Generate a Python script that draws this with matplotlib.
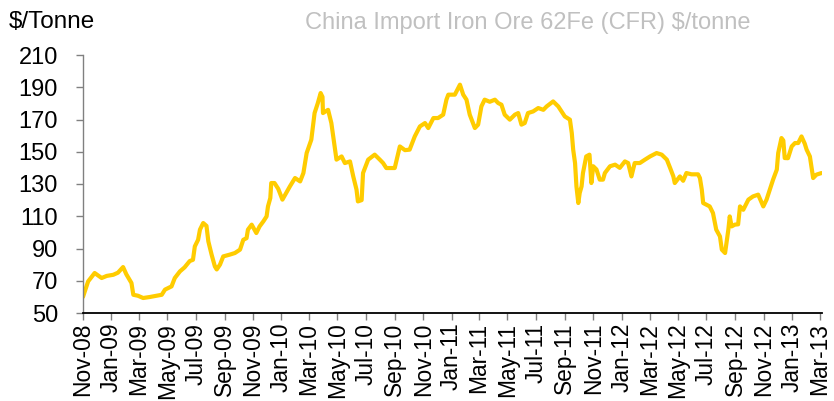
import matplotlib
matplotlib.use("Agg")
import matplotlib.pyplot as plt
import matplotlib.dates as mdates
import pandas as pd

dates = [
    "2008-11-01", "2008-11-12", "2008-11-26", "2008-12-11", "2008-12-22",
    "2009-01-05", "2009-01-15", "2009-01-26", "2009-02-02", "2009-02-13",
    "2009-02-17", "2009-02-27", "2009-03-10", "2009-03-24", "2009-04-08",
    "2009-04-19", "2009-04-26", "2009-05-10", "2009-05-17", "2009-05-28",
    "2009-06-07", "2009-06-18", "2009-06-25", "2009-06-29", "2009-07-06",
    "2009-07-10", "2009-07-17", "2009-07-24", "2009-07-28", "2009-08-04",
    "2009-08-11", "2009-08-15", "2009-08-22", "2009-08-29", "2009-09-12",
    "2009-09-23", "2009-10-04", "2009-10-11", "2009-10-18", "2009-10-21",
    "2009-10-29", "2009-11-08", "2009-11-15", "2009-11-23", "2009-11-30",
    "2009-12-03", "2009-12-08", "2009-12-10", "2009-12-17", "2009-12-25",
    "2010-01-03", "2010-01-19", "2010-01-30", "2010-02-10", "2010-02-17",
    "2010-02-24", "2010-03-06", "2010-03-13", "2010-03-20", "2010-03-26",
    "2010-03-30", "2010-03-31", "2010-04-11", "2010-04-18", "2010-04-29",
    "2010-05-10", "2010-05-17", "2010-05-28", "2010-06-04", "2010-06-11",
    "2010-06-14", "2010-06-22", "2010-06-25", "2010-07-06", "2010-07-20",
    "2010-07-31", "2010-08-07", "2010-08-14", "2010-09-01", "2010-09-12",
    "2010-09-23", "2010-10-03", "2010-10-14", "2010-10-25", "2010-11-05",
    "2010-11-12", "2010-11-23", "2010-12-03", "2010-12-14", "2010-12-21",
    "2010-12-25", "2011-01-08", "2011-01-19", "2011-01-26", "2011-02-02",
    "2011-02-09", "2011-02-20", "2011-02-27", "2011-03-06", "2011-03-13",
    "2011-03-24", "2011-04-04", "2011-04-11", "2011-04-18", "2011-04-25",
    "2011-05-06", "2011-05-17", "2011-05-24", "2011-05-31", "2011-06-07",
    "2011-06-14", "2011-06-25", "2011-07-06", "2011-07-17", "2011-07-24",
    "2011-08-07", "2011-08-18", "2011-08-25", "2011-09-01", "2011-09-12",
    "2011-09-16", "2011-09-19", "2011-09-23", "2011-09-26", "2011-09-30",
    "2011-10-03", "2011-10-07", "2011-10-10", "2011-10-17", "2011-10-24",
    "2011-10-28", "2011-11-01", "2011-11-08", "2011-11-15", "2011-11-22",
    "2011-11-26", "2011-12-07", "2011-12-18", "2011-12-28", "2012-01-08",
    "2012-01-15", "2012-01-22", "2012-01-29", "2012-02-09", "2012-02-20",
    "2012-03-02", "2012-03-16", "2012-03-27", "2012-04-07", "2012-04-14",
    "2012-04-21", "2012-04-24", "2012-05-05", "2012-05-12", "2012-05-19",
    "2012-05-30", "2012-06-13", "2012-06-17", "2012-06-21", "2012-06-24",
    "2012-07-08", "2012-07-15", "2012-07-22", "2012-07-30", "2012-08-03",
    "2012-08-10", "2012-08-17", "2012-08-20", "2012-08-24", "2012-08-31",
    "2012-09-07", "2012-09-11", "2012-09-18", "2012-09-29", "2012-10-09",
    "2012-10-20", "2012-10-31", "2012-11-07", "2012-11-14", "2012-11-21",
    "2012-11-29", "2012-12-02", "2012-12-09", "2012-12-13", "2012-12-16",
    "2012-12-23", "2012-12-31", "2013-01-07", "2013-01-14", "2013-01-21",
    "2013-01-28", "2013-02-01", "2013-02-08", "2013-02-15", "2013-02-22",
    "2013-03-05",
]

prices = [
    60.0, 69.6, 74.8, 71.7, 73.0,
    73.7, 75.0, 78.5, 74.0, 68.6,
    61.3, 60.7, 59.3, 59.9, 60.7,
    61.3, 64.5, 66.5, 71.7, 75.8,
    78.3, 82.2, 83.0, 91.3, 95.4,
    101.7, 105.8, 104.0, 94.4, 86.2,
    78.9, 77.0, 80.0, 85.1, 86.2,
    87.2, 89.3, 95.4, 96.4, 101.7,
    104.8, 99.6, 103.7, 106.8, 109.9,
    116.1, 121.3, 130.6, 130.6, 127.0,
    120.3, 128.5, 133.7, 131.6, 136.8,
    149.2, 157.5, 174.0, 180.2, 186.4,
    184.0, 174.0, 176.0, 167.8, 145.1,
    147.1, 143.0, 144.0, 134.7, 126.5,
    119.2, 120.0, 136.8, 145.1, 148.2,
    145.1, 143.0, 139.9, 139.9, 153.3,
    151.0, 151.3, 159.5, 165.7, 167.8,
    164.7, 170.9, 170.9, 173.0, 182.3,
    185.4, 185.4, 191.6, 185.4, 182.3,
    173.0, 164.7, 166.8, 178.1, 182.3,
    181.0, 182.3, 180.2, 179.2, 173.0,
    169.9, 173.0, 174.0, 166.8, 167.8,
    174.0, 175.0, 177.1, 176.0, 178.1,
    181.2, 178.1, 175.0, 171.9, 169.9,
    161.6, 151.3, 143.0, 128.5, 118.2,
    124.4, 128.5, 136.8, 147.1, 148.2,
    130.6, 141.0, 139.0, 132.7, 132.7,
    136.8, 141.0, 142.0, 140.0, 144.0,
    143.0, 134.7, 143.0, 143.0, 145.1,
    147.1, 149.2, 148.2, 145.1, 140.0,
    134.7, 130.6, 134.7, 132.0, 136.8,
    136.0, 136.0, 133.7, 126.5, 118.2,
    116.1, 112.0, 101.7, 97.5, 89.3,
    87.2, 101.7, 109.9, 103.7, 104.8,
    105.0, 116.1, 114.0, 120.3, 122.3,
    123.4, 116.1, 120.3, 126.5, 132.7,
    138.9, 149.2, 158.5, 157.0, 146.1,
    146.0, 153.3, 155.4, 155.4, 159.5,
    155.0, 151.3, 147.1, 133.7, 135.8,
    136.8,
]

y_ticks = [50, 70, 90, 110, 130, 150, 170, 190, 210]
title_text = "China Import Iron Ore 62Fe (CFR) $/tonne"
unit_text = "$/Tonne"

plt.rcParams['font.family'] = ['Liberation Sans', 'DejaVu Sans']

fig = plt.figure(figsize=(8.34, 4.01), dpi=100)
ax = fig.add_axes([83 / 834, 1 - 313 / 401, (822 - 83) / 834, (313 - 55) / 401])

x = pd.to_datetime(dates)
ax.plot(x, prices, color="#FFCC00", lw=3.0, solid_joinstyle="round", solid_capstyle="round")

ax.set_xlim(pd.Timestamp("2008-11-01"), pd.Timestamp("2013-03-06"))
ax.set_ylim(50, 210)
ax.set_yticks(y_ticks)
ax.xaxis.set_major_locator(mdates.MonthLocator(bymonth=[1, 3, 5, 7, 9, 11]))
ax.xaxis.set_major_formatter(mdates.DateFormatter("%b-%y"))

for lbl in ax.get_xticklabels():
    lbl.set_rotation(90)

ax.tick_params(axis="y", direction="out", length=5, width=1, color="#808080",
               labelsize=17, pad=13, labelcolor="black")
ax.tick_params(axis="x", direction="out", length=5, width=1, color="#808080",
               labelsize=16.4, pad=2, labelcolor="black")

for s in ["top", "right"]:
    ax.spines[s].set_visible(False)
ax.spines["left"].set_color("#808080")
ax.spines["left"].set_linewidth(1.0)
ax.spines["bottom"].set_color("#000000")
ax.spines["bottom"].set_linewidth(1.3)

fig.text(9 / 834, 1 - 28 / 401, unit_text, fontsize=17.5, color="black",
         ha="left", va="baseline")
fig.text(528 / 834, 1 - 29 / 401, title_text, fontsize=17, color="#C0C0C0",
         ha="center", va="baseline")

fig.savefig("out.png", dpi=100)
